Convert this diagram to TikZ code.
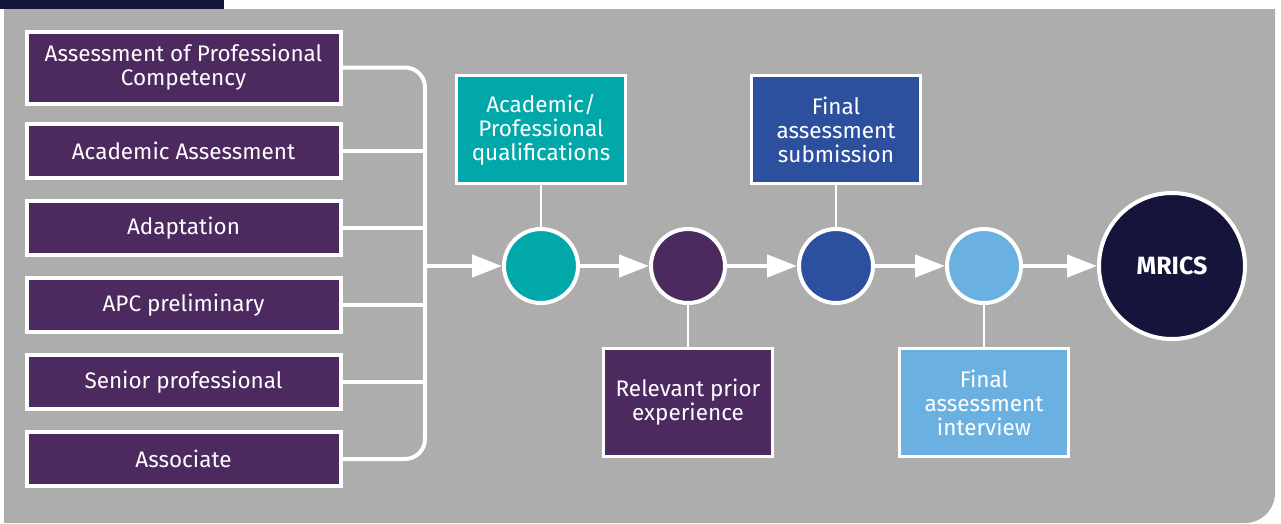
\documentclass[tikz,border=0pt]{standalone}
\usepackage{fontspec}
\setmainfont{Fira Sans}
\usetikzlibrary{arrows.meta,positioning,calc}
\definecolor{bggray}{HTML}{ADADAD}
\definecolor{rpurple}{HTML}{4C2A60}
\definecolor{rteal}{HTML}{00A8AA}
\definecolor{rblue}{HTML}{2D509E}
\definecolor{rlight}{HTML}{6AB1E1}
\definecolor{rnavy}{HTML}{15143B}
\tikzset{
    route/.style={draw=white, line width=4pt, fill=rpurple, text=white, minimum width=314pt, minimum height=54pt, align=center, inner sep=0pt},
    stage/.style={draw=white, line width=3pt, text=white, minimum width=169pt, minimum height=108pt, align=center, inner sep=0pt},
    dot/.style={circle, draw=white, line width=4pt, minimum size=74pt, inner sep=0pt},
    flow/.style={draw=white, line width=4.5pt, -{Triangle[length=30pt,width=22pt]}},
    stem/.style={draw=white, line width=2.5pt},
}
\begin{document}
\begin{tikzpicture}[x=1pt,y=-1pt,font=\fontsize{22.5}{24}\selectfont]
        \useasboundingbox (0,0) rectangle (1281,523);
        % background
        \fill[bggray] (4,9) -- (1275,9) [rounded corners=30pt] -- (1275,523) [sharp corners] -- (4,523) -- cycle;
        \fill[rnavy] (0,0) rectangle (224,9);
        % routes
        \node[route, minimum height=72pt] (a1) at (183.5,67.5) {Assessment of Professional\\Competency};
        \node[route] (a2) at (183.5,151) {Academic Assessment};
        \node[route] (a3) at (183.5,228) {Adaptation};
        \node[route] (a4) at (183.5,305) {APC preliminary};
        \node[route] (a5) at (183.5,382) {Senior professional};
        \node[route] (a6) at (183.5,459) {Associate};
        \coordinate (J) at (425,266);
        \draw[white, line width=4pt, rounded corners=20pt] (a1.east) -- (a1.east -| J) -- (a6.east -| J) -- (a6.east);
        \foreach \i in {2,...,5}
            \draw[white, line width=4pt] (a\i.east) -- (a\i.east -| J);
        % stages
        \node[dot, fill=rteal] (c1) at (541,266) {};
        \node[dot, fill=rpurple] (c2) at (688,266) {};
        \node[dot, fill=rblue] (c3) at (836,266) {};
        \node[dot, fill=rlight] (c4) at (984,266) {};
        \node[dot, fill=rnavy, minimum size=146pt, text=white, font=\fontsize{25}{28}\selectfont\bfseries] (m) at (1172,266) {MRICS};
        \draw[flow] (J) -- (c1);
        \draw[flow] (c1) -- (c2);
        \draw[flow] (c2) -- (c3);
        \draw[flow] (c3) -- (c4);
        \draw[flow] (c4) -- (m);
        \node[stage, fill=rteal, above=42pt of c1] (s1) {Academic/\\Professional\\qualifications};
        \node[stage, fill=rpurple, below=42pt of c2] (s2) {Relevant prior\\experience};
        \node[stage, fill=rblue, above=42pt of c3] (s3) {Final\\assessment\\submission};
        \node[stage, fill=rlight, below=42pt of c4] (s4) {Final\\assessment\\interview};
        \draw[stem] (s1) -- (c1);
        \draw[stem] (s2) -- (c2);
        \draw[stem] (s3) -- (c3);
        \draw[stem] (s4) -- (c4);
    \end{tikzpicture}
\end{document}
